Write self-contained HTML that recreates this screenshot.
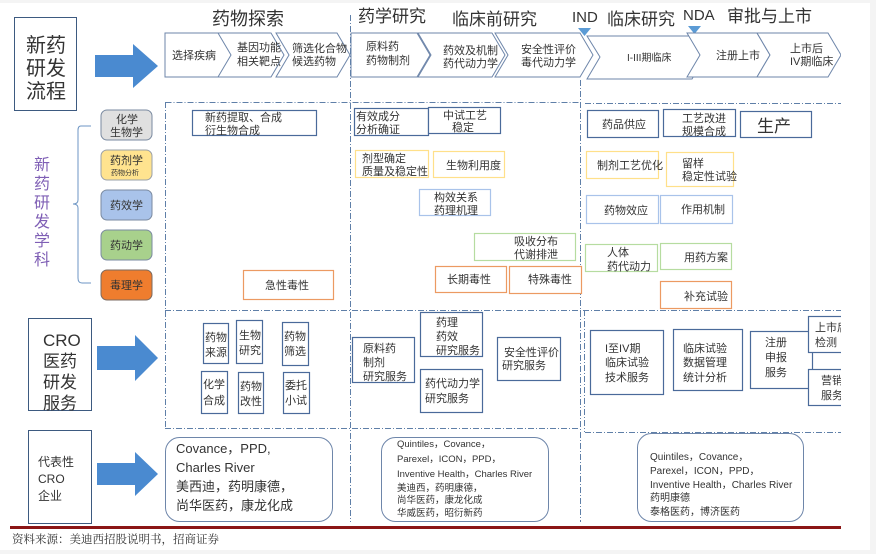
<!DOCTYPE html>
<html><head><meta charset="utf-8"><style>
html,body{margin:0;padding:0;background:#f4f4f4;}
svg{display:block;}
text{font-family:"Liberation Sans","Noto Sans CJK SC",sans-serif;fill:#333;}
.s{font-size:11px;}
.m{font-size:12px;}
</style></head><body>
<svg width="876" height="554" viewBox="0 0 876 554" xmlns="http://www.w3.org/2000/svg">
<rect x="0" y="3" width="870" height="547" fill="#fff"/>
<defs><clipPath id="c"><rect x="0" y="0" width="841" height="554"/></clipPath></defs>
<g clip-path="url(#c)">
<text x="212" y="25" font-size="18">药物探索</text>
<text x="358" y="22" font-size="17">药学研究</text>
<text x="452" y="25" font-size="17">临床前研究</text>
<text x="572" y="22" font-size="15">IND</text>
<polygon points="578,28 591,28 584.5,36" fill="#5b9bd5"/>
<text x="607" y="25" font-size="17">临床研究</text>
<text x="683" y="20" font-size="15">NDA</text>
<polygon points="688,26 701,26 694.5,34" fill="#5b9bd5"/>
<text x="727" y="22" font-size="17">审批与上市</text>

<rect x="14.5" y="17.5" width="62" height="93" fill="#fff" stroke="#3d5a80"/>
<text x="26" y="52" font-size="20">新药</text>
<text x="26" y="75" font-size="20">研发</text>
<text x="26" y="98" font-size="20">流程</text>
<polygon points="95,55 133,55 133,44 158,66 133,88 133,77 95,77" fill="#4a8ad0"/>

<g fill="#fff" stroke="#6e86aa" stroke-width="1">
<polygon points="165,33 223,33 236,55 223,77 165,77"/>
<polygon points="218,33 271,33 284,55 271,77 218,77 231,55"/>
<polygon points="276,33 337,33 350,55 337,77 276,77 289,55"/>
<polygon points="351,33 417,33 430,55 417,77 351,77"/>
<polygon points="418,33 492,33 505,55 492,77 418,77 431,55"/>
<polygon points="495,33 580,33 593,55 580,77 495,77 508,55"/>
<polygon points="587,36 692,36 705,57 692,79 587,79 600,57"/>
<polygon points="687,33 757,33 770,55 757,77 687,77 700,55"/>
<polygon points="757,33 828,33 841,55 828,77 757,77 770,55"/>
</g>
<text class="s" x="172" y="59">选择疾病</text>
<text class="s" x="237" y="51">基因功能</text>
<text class="s" x="237" y="65">相关靶点</text>
<text class="s" x="292" y="52">筛选化合物</text>
<text class="s" x="292" y="65">候选药物</text>
<text class="s" x="366" y="50">原料药</text>
<text class="s" x="366" y="64">药物制剂</text>
<text class="s" x="443" y="54">药效及机制</text>
<text class="s" x="443" y="67">药代动力学</text>
<text class="s" x="521" y="53">安全性评价</text>
<text class="s" x="521" y="66">毒代动力学</text>
<text x="627" y="61" font-size="10">I-III期临床</text>
<text class="s" x="716" y="59">注册上市</text>
<text class="s" x="790" y="52">上市后</text>
<text class="s" x="790" y="65">IV期临床</text>

<g stroke="#5f7fa8" stroke-width="1" stroke-dasharray="6,2,1,2" fill="none">
<line x1="350.5" y1="15" x2="350.5" y2="522"/>
<line x1="580.5" y1="80" x2="580.5" y2="522"/>
<line x1="165.5" y1="102.5" x2="580" y2="102.5"/>
<line x1="585" y1="103.5" x2="841" y2="103.5"/>
<line x1="165.5" y1="102" x2="165.5" y2="428"/>
<line x1="165" y1="310.5" x2="841" y2="310.5"/>
<line x1="165" y1="428.5" x2="580" y2="428.5"/>
<line x1="585" y1="432.5" x2="841" y2="432.5"/>
<line x1="584.5" y1="310" x2="584.5" y2="432"/>
</g>

<path d="M91,126 L81,126 Q78,126 78,130 L78,200 Q78,204 73,204 Q78,204 78,208 L78,278 Q78,283 82,283 L91,283" fill="none" stroke="#6e96c4"/>
<g font-size="16">
<text x="34" y="170" style="fill:#7f5fb5">新</text>
<text x="34" y="189" style="fill:#7f5fb5">药</text>
<text x="34" y="208" style="fill:#7f5fb5">研</text>
<text x="34" y="227" style="fill:#7f5fb5">发</text>
<text x="34" y="246" style="fill:#7f5fb5">学</text>
<text x="34" y="265" style="fill:#7f5fb5">科</text>
</g>
<rect x="101" y="110" width="51" height="30" rx="6" fill="#e0e0e0" stroke="#7a8aa0"/>
<text class="s" x="116" y="123">化学</text><text class="s" x="110" y="136">生物学</text>
<rect x="101" y="150" width="51" height="30" rx="6" fill="#ffe38f" stroke="#9aa0a8"/>
<text class="s" x="110" y="164">药剂学</text><text x="111" y="175" font-size="7">药物分析</text>
<rect x="101" y="190" width="51" height="30" rx="6" fill="#a9c3ea" stroke="#7a8aa0"/>
<text class="s" x="110" y="209">药效学</text>
<rect x="101" y="230" width="51" height="30" rx="6" fill="#a8d18c" stroke="#7a8aa0"/>
<text class="s" x="110" y="249">药动学</text>
<rect x="101" y="270" width="51" height="30" rx="6" fill="#ef7d2e" stroke="#7a6a60"/>
<text class="s" x="110" y="289">毒理学</text>

<g fill="#fff" stroke-width="1.2">
<rect x="192.5" y="110.5" width="124" height="25" stroke="#4a6a9a"/>
<rect x="354.5" y="108.5" width="74" height="27" stroke="#4a6a9a"/>
<rect x="428.5" y="107.5" width="72" height="26" stroke="#4a6a9a"/>
<rect x="355.5" y="150.5" width="73" height="27" stroke="#ffe08a"/>
<rect x="433.5" y="151.5" width="71" height="26" stroke="#ffe08a"/>
<rect x="419.5" y="189.5" width="71" height="26" stroke="#a9c3ea"/>
<rect x="474.5" y="233.5" width="101" height="27" stroke="#b6dca0"/>
<rect x="435.5" y="266.5" width="71" height="26" stroke="#ec9a62"/>
<rect x="509.5" y="266.5" width="72" height="27" stroke="#ec9a62"/>
<rect x="243.5" y="270.5" width="90" height="29" stroke="#ec9a62"/>
<rect x="587.5" y="110.5" width="71" height="27" stroke="#4a6a9a"/>
<rect x="663.5" y="109.5" width="72" height="27" stroke="#4a6a9a"/>
<rect x="740.5" y="111.5" width="71" height="26" stroke="#4a6a9a"/>
<rect x="586.5" y="151.5" width="72" height="27" stroke="#ffe08a"/>
<rect x="666.5" y="152.5" width="67" height="34" stroke="#ffe08a"/>
<rect x="586.5" y="195.5" width="72" height="28" stroke="#a9c3ea"/>
<rect x="660.5" y="195.5" width="72" height="28" stroke="#a9c3ea"/>
<rect x="585.5" y="244.5" width="72" height="27" stroke="#b6dca0"/>
<rect x="660.5" y="243.5" width="71" height="26" stroke="#b6dca0"/>
<rect x="660.5" y="281.5" width="71" height="27" stroke="#ec9a62"/>
</g>
<g>
<text class="s" x="205" y="121">新药提取、合成</text><text class="s" x="205" y="134">衍生物合成</text>
<text class="s" x="356" y="120">有效成分</text><text class="s" x="356" y="133">分析确证</text>
<text class="s" x="443" y="119">中试工艺</text><text class="s" x="452" y="131">稳定</text>
<text class="s" x="362" y="162">剂型确定</text><text class="s" x="362" y="175">质量及稳定性</text>
<text class="s" x="446" y="169">生物利用度</text>
<text class="s" x="434" y="201">构效关系</text><text class="s" x="434" y="214">药理机理</text>
<text class="s" x="514" y="245">吸收分布</text><text class="s" x="514" y="258">代谢排泄</text>
<text class="s" x="447" y="283">长期毒性</text>
<text class="s" x="528" y="283">特殊毒性</text>
<text class="s" x="265" y="289">急性毒性</text>
<text class="s" x="602" y="128">药品供应</text>
<text class="s" x="682" y="122">工艺改进</text><text class="s" x="682" y="135">规模合成</text>
<text x="757" y="132" font-size="17">生产</text>
<text class="s" x="597" y="169">制剂工艺优化</text>
<text class="s" x="682" y="167">留样</text><text class="s" x="682" y="180">稳定性试验</text>
<text class="s" x="604" y="214">药物效应</text>
<text class="s" x="681" y="213">作用机制</text>
<text class="s" x="607" y="256">人体</text><text class="s" x="607" y="270">药代动力</text>
<text class="s" x="684" y="261">用药方案</text>
<text class="s" x="684" y="300">补充试验</text>
</g>

<rect x="28.5" y="318.5" width="63" height="92" fill="#fff" stroke="#3d5a80"/>
<text x="43" y="346" font-size="17">CRO</text>
<text x="43" y="367" font-size="17">医药</text>
<text x="43" y="388" font-size="17">研发</text>
<text x="43" y="409" font-size="17">服务</text>
<polygon points="97,346 135,346 135,335 158,358 135,381 135,370 97,370" fill="#4a8ad0"/>
<g fill="#fff" stroke="#4a6a9a" stroke-width="1.2">
<rect x="203.5" y="323.5" width="25" height="40"/>
<rect x="236.5" y="320.5" width="26" height="43"/>
<rect x="282.5" y="322.5" width="26" height="43"/>
<rect x="201.5" y="371.5" width="26" height="42"/>
<rect x="238.5" y="372.5" width="25" height="41"/>
<rect x="283.5" y="372.5" width="26" height="41"/>
<rect x="352.5" y="337.5" width="62" height="45"/>
<rect x="420.5" y="312.5" width="62" height="44"/>
<rect x="497.5" y="337.5" width="63" height="43"/>
<rect x="420.5" y="369.5" width="62" height="43"/>
<rect x="590.5" y="330.5" width="73" height="64"/>
<rect x="673.5" y="329.5" width="69" height="61"/>
<rect x="750.5" y="331.5" width="62" height="57"/>
<rect x="808.5" y="316.5" width="40" height="36"/>
<rect x="808.5" y="369.5" width="40" height="36"/>
</g>
<g>
<text class="s" x="205" y="341">药物</text><text class="s" x="205" y="356">来源</text>
<text class="s" x="239" y="339">生物</text><text class="s" x="239" y="354">研究</text>
<text class="s" x="284" y="340">药物</text><text class="s" x="284" y="355">筛选</text>
<text class="s" x="203" y="388">化学</text><text class="s" x="203" y="404">合成</text>
<text class="s" x="240" y="390">药物</text><text class="s" x="240" y="405">改性</text>
<text class="s" x="285" y="389">委托</text><text class="s" x="285" y="404">小试</text>
<text class="s" x="363" y="352">原料药</text><text class="s" x="363" y="366">制剂</text><text class="s" x="363" y="380">研究服务</text>
<text class="s" x="436" y="326">药理</text><text class="s" x="436" y="340">药效</text><text class="s" x="436" y="354">研究服务</text>
<text class="s" x="504" y="356">安全性评价</text><text class="s" x="502" y="369">研究服务</text>
<text class="s" x="425" y="387">药代动力学</text><text class="s" x="425" y="402">研究服务</text>
<text class="s" x="605" y="352">I至IV期</text><text class="s" x="605" y="366">临床试验</text><text class="s" x="605" y="381">技术服务</text>
<text class="s" x="683" y="352">临床试验</text><text class="s" x="683" y="366">数据管理</text><text class="s" x="683" y="381">统计分析</text>
<text class="s" x="765" y="346">注册</text><text class="s" x="765" y="361">申报</text><text class="s" x="765" y="376">服务</text>
<text class="s" x="815" y="331">上市后</text><text class="s" x="815" y="346">检测</text>
<text class="s" x="821" y="384">营销</text><text class="s" x="821" y="399">服务</text>
</g>

<rect x="28.5" y="430.5" width="63" height="93" fill="#fff" stroke="#3d5a80"/>
<text class="m" x="38" y="466">代表性</text>
<text class="m" x="38" y="483">CRO</text>
<text class="m" x="38" y="500">企业</text>
<polygon points="97,463 135,463 135,452 158,474 135,496 135,485 97,485" fill="#4a8ad0"/>
<rect x="165.5" y="437.5" width="167" height="84" rx="14" fill="#fff" stroke="#6e86aa"/>
<text x="176" y="453" font-size="13">Covance，PPD,</text>
<text x="176" y="472" font-size="13">Charles River</text>
<text x="176" y="491" font-size="13">美西迪，药明康德，</text>
<text x="176" y="510" font-size="13">尚华医药，康龙化成</text>
<rect x="381.5" y="437.5" width="167" height="84" rx="14" fill="#fff" stroke="#6e86aa"/>
<text x="397" y="447" font-size="9.5">Quintiles，Covance，</text>
<text x="397" y="462" font-size="9.5">Parexel，ICON，PPD，</text>
<text x="397" y="477" font-size="9.5">Inventive Health，Charles River</text>
<text x="397" y="491" font-size="9.5">美迪西，药明康德，</text>
<text x="397" y="503" font-size="9.5">尚华医药，康龙化成</text>
<text x="397" y="516" font-size="9.5">华威医药，昭衍新药</text>
<rect x="637.5" y="433.5" width="166" height="88" rx="14" fill="#fff" stroke="#6e86aa"/>
<text x="650" y="460" font-size="10">Quintiles，Covance，</text>
<text x="650" y="474" font-size="10">Parexel，ICON，PPD，</text>
<text x="650" y="488" font-size="10">Inventive Health，Charles River</text>
<text x="650" y="501" font-size="10">药明康德</text>
<text x="650" y="515" font-size="10">泰格医药，博济医药</text>

<rect x="10" y="526" width="831" height="3" fill="#8b1515"/>
</g>
<text x="12" y="543" font-size="11.5" style="font-family:'Liberation Serif','Noto Serif CJK SC',serif;fill:#333">资料来源：美迪西招股说明书，招商证券</text>
</svg>
</body></html>
